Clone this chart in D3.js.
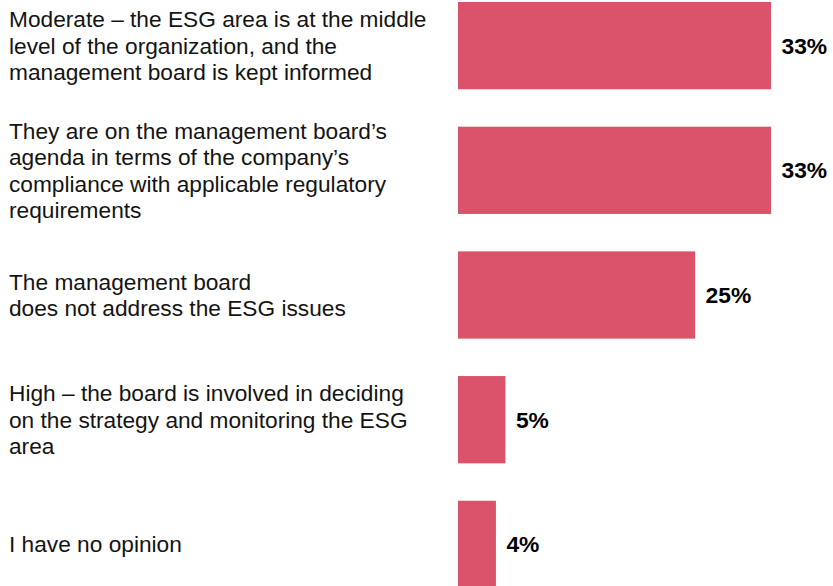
<!DOCTYPE html>
<html>
<head>
<meta charset="utf-8">
<script src="https://cdn.jsdelivr.net/npm/d3@7"></script>
<style>
  html, body { margin: 0; padding: 0; background: #fff; }
  svg { display: block; }
</style>
</head>
<body>
<svg id="chart" width="833" height="586"></svg>
<script>
// Survey answers (one array of wrapped lines per answer) and their shares in %
const categories = [
  ["Moderate \u2013 the ESG area is at the middle", "level of the organization, and the", "management board is kept informed"],
  ["They are on the management board\u2019s", "agenda in terms of the company\u2019s", "compliance with applicable regulatory", "requirements"],
  ["The management board", "does not address the ESG issues"],
  ["High \u2013 the board is involved in deciding", "on the strategy and monitoring the ESG", "area"],
  ["I have no opinion"]
];
const values = [33, 33, 25, 5, 4];
const valueLabels = ["33%", "33%", "25%", "5%", "4%"];

const barColor = "#db536a";
const textColor = "#141414";
const fontFamily = "Arial, 'Liberation Sans', Helvetica, sans-serif";
const fontSize = 22.7;
const lineHeight = 26.5;

const svg = d3.select("#chart");
const ids = d3.range(values.length);

const x = d3.scaleLinear().domain([0, 33]).range([458, 771]);
const y = d3.scaleBand().domain(ids).range([2, 588]).paddingInner(0.3).paddingOuter(0);

// bars
svg.append("g").selectAll("rect")
  .data(ids)
  .join("rect")
  .attr("x", x(0))
  .attr("y", i => y(i))
  .attr("width", i => x(values[i]) - x(0))
  .attr("height", y.bandwidth())
  .attr("fill", barColor);

// value labels at the end of each bar
svg.append("g").selectAll("text")
  .data(ids)
  .join("text")
  .attr("x", i => x(values[i]) + 10.5)
  .attr("y", i => y(i) + y.bandwidth() / 2 + 8)
  .attr("font-family", fontFamily)
  .attr("font-size", 22.8)
  .attr("font-weight", "bold")
  .attr("fill", "#000")
  .text(i => valueLabels[i]);

// category labels, multi-line, vertically centred on each bar
const cat = svg.append("g").selectAll("text")
  .data(ids)
  .join("text")
  .attr("font-family", fontFamily)
  .attr("font-size", fontSize)
  .attr("fill", textColor);

cat.each(function(i) {
  const lines = categories[i];
  const cy = y(i) + y.bandwidth() / 2;
  const n = lines.length;
  d3.select(this).selectAll("tspan")
    .data(lines)
    .join("tspan")
    .attr("x", 9)
    .attr("y", (d, k) => cy + (k - (n - 1) / 2) * lineHeight + 8)
    .text(d => d);
});
</script>
</body>
</html>
